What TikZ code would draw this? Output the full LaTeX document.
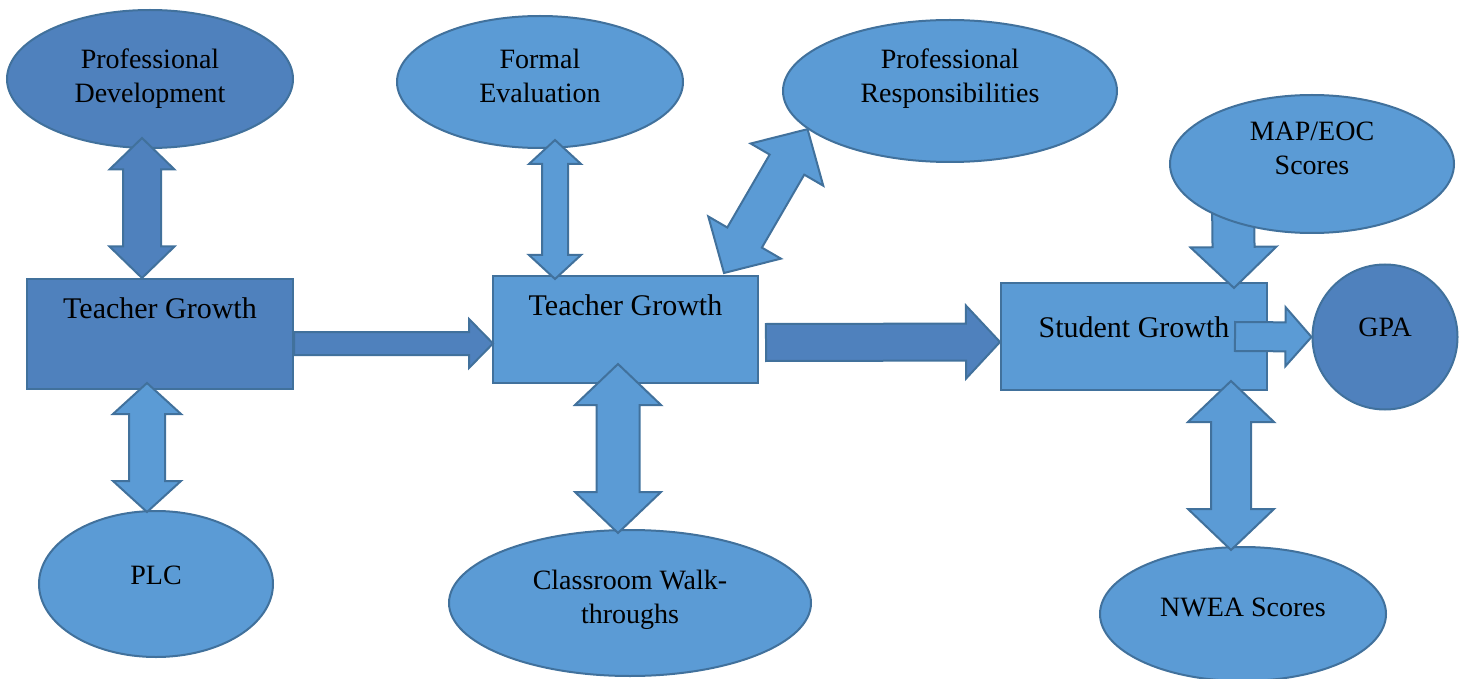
\documentclass[tikz,border=0pt]{standalone}
\usepackage{fontspec}
\setmainfont{Liberation Serif}
\usetikzlibrary{calc,shapes.geometric}

\definecolor{dkblue}{RGB}{79,129,189}
\definecolor{ltblue}{RGB}{91,155,213}
\definecolor{edgeblue}{RGB}{65,113,156}

\begin{document}
\begin{tikzpicture}[x=1pt,y=1pt,
	fig/.style={draw=edgeblue,line width=2pt,inner sep=0pt,align=center},
	oval/.style={fig,ellipse,font=\fontsize{28}{34}\selectfont},
	card/.style={fig,rectangle,font=\fontsize{30}{36}\selectfont},
	dk/.style={fill=dkblue},
	lt/.style={fill=ltblue},
	barrow/.style={draw=edgeblue,line width=2pt}]
	\useasboundingbox (0,0) rectangle (1465,-679);

	\node[oval,dk,minimum width=286,minimum height=138] (pd) at (150,-79) {Professional\\Development};
	\node[oval,lt,minimum width=286,minimum height=132,text depth=12] (fe) at (540,-82) {Formal\\Evaluation};
	\node[oval,lt,minimum width=334,minimum height=142,text depth=30] (pr) at (950,-91) {Professional\\Responsibilities};
	\node[card,dk,minimum width=266,minimum height=110,text depth=51] (tgA) at (160,-334) {Teacher Growth};
	\node[card,lt,minimum width=265,minimum height=107,text depth=49] (tgB) at (625.5,-329.5) {Teacher Growth};
	\node[card,lt,minimum width=266,minimum height=107,text depth=19] (sg) at (1134,-336.5) {Student Growth};
	\node[oval,dk,circle,minimum size=145,text depth=20] (gpa) at (1385,-337) {GPA};
	\node[oval,lt,minimum width=234,minimum height=146,text depth=18] (plc) at (156,-584) {PLC};
	\node[oval,lt,minimum width=362,minimum height=146,text depth=12] (cw) at (630,-603) {Classroom Walk-\\throughs};
	\node[oval,lt,minimum width=286,minimum height=134,text depth=14] (nwea) at (1243,-614) {NWEA Scores};

	\coordinate (pdB) at ($(pd.south)+(-8,11)$);
	\coordinate (tgAT) at ($(tgA.north)+(-18,0)$);
	\coordinate (tgAB) at ($(tgA.south)+(-13,7)$);
	\coordinate (plcT) at ($(plc.north)+(-9,-2)$);
	\coordinate (feB) at ($(fe.south)+(15,9)$);
	\coordinate (tgBT) at ($(tgB.north)+(-70.5,-4)$);
	\coordinate (tgBR) at ($(tgB.north east)+(-35,2)$);
	\coordinate (tgBB) at ($(tgB.south)+(-7.5,20)$);
	\coordinate (cwT) at ($(cw.north)+(-12,-4)$);
	\coordinate (sgB) at ($(sg.south)+(97,10)$);
	\coordinate (nweaT) at ($(nwea.north)+(-12,-4)$);
	\coordinate (tgAR) at ($(tgA.east)+(0,-9.5)$);
	\coordinate (tgBL) at ($(tgB.west)+(1,-14)$);
	\coordinate (tgBE) at ($(tgB.east)+(7,-13)$);
	\coordinate (sgL) at ($(sg.west)+(0,-5.5)$);
	\coordinate (sgR) at ($(sg.east)+(-33,0)$);
	\coordinate (sgT) at ($(sg.north)+(100,-6)$);
	\coordinate (mapB) at (1233,-200);

	\foreach \src/\dst/\sw/\hw/\hl/\fc in {pdB/tgAT/19/32.5/31.5/dk, tgAB/plcT/18/34/31/lt,
		feB/tgBT/13/26/24/lt, tgBR/pr.195/20/42/41/lt, tgBB/cwT/21.5/43/41/lt, sgB/nweaT/20/43/41/lt} {
		\draw[barrow,\fc] let \p1=(\src), \p2=(\dst), \p3=($(\p2)-(\p1)$), \n1={atan2(\y3,\x3)}, \n2={veclen(\x3,\y3)} in
			[shift={(\p1)},rotate=\n1] (0,0) -- (\hl,\hw) -- (\hl,\sw) -- (\n2-\hl,\sw) -- (\n2-\hl,\hw) -- (\n2,0)
			-- (\n2-\hl,-\hw) -- (\n2-\hl,-\sw) -- (\hl,-\sw) -- (\hl,-\hw) -- cycle;
	}
	\foreach \src/\dst/\sw/\hw/\hl/\fc in {tgAR/tgBL/11.5/24.5/24/dk, tgBE/sgL/18.5/36.5/34/dk,
		sgR/gpa.west/14.5/29.5/26/lt, mapB/sgT/21/43/41/lt} {
		\draw[barrow,\fc] let \p1=(\src), \p2=(\dst), \p3=($(\p2)-(\p1)$), \n1={atan2(\y3,\x3)}, \n2={veclen(\x3,\y3)} in
			[shift={(\p1)},rotate=\n1] (0,\sw) -- (\n2-\hl,\sw) -- (\n2-\hl,\hw) -- (\n2,0)
			-- (\n2-\hl,-\hw) -- (\n2-\hl,-\sw) -- (0,-\sw) -- cycle;
	}

	\node[oval,lt,minimum width=284,minimum height=138,text depth=32] (map) at (1312,-164) {MAP/EOC\\Scores};
\end{tikzpicture}
\end{document}
